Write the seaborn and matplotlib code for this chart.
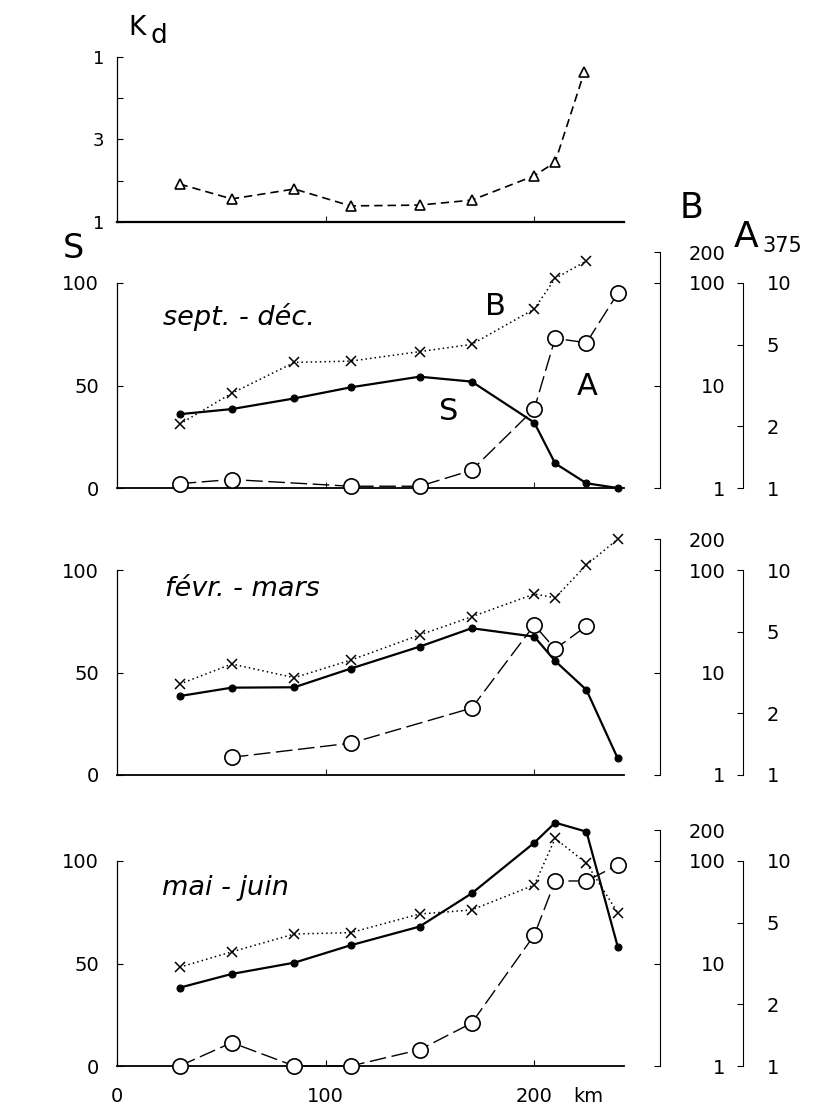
import matplotlib
matplotlib.use("Agg")
import matplotlib.pyplot as plt
import numpy as np
import pandas as pd
import seaborn as sns

# ---------------- data ----------------
stations = [30, 55, 85, 112, 145, 170, 200, 210, 225, 240]

kd_km = [30, 55, 85, 112, 145, 170, 200, 210, 224]
kd_val = [1.92, 1.56, 1.80, 1.39, 1.41, 1.53, 2.12, 2.45, 4.64]
kd_ticks = [1, 2, 3, 4, 5]
kd_ticklabels = ["1", "", "3", "", "1"]

# sept. - déc.
sd_S_km = [30, 55, 85, 112, 145, 170, 200, 210, 225, 240]
sd_S = [36.0, 38.5, 43.7, 49.1, 54.3, 51.9, 31.9, 12.0, 2.3, 0.0]
sd_B_km = [30, 55, 85, 112, 145, 170, 200, 210, 225]
sd_B = [4.2, 8.4, 16.8, 17.3, 21.4, 25.2, 55.7, 111, 164]
sd_A_km = [30, 55, 112, 145, 170, 200, 210, 225, 240]
sd_A = [1.05, 1.10, 1.02, 1.02, 1.22, 2.43, 5.37, 5.11, 8.91]

# févr. - mars
fm_S_km = [30, 55, 85, 112, 145, 170, 200, 210, 225, 240]
fm_S = [38.5, 42.6, 42.8, 51.9, 62.6, 71.6, 67.5, 55.6, 41.5, 8.1]
fm_B_km = [30, 55, 85, 112, 145, 170, 200, 210, 225, 240]
fm_B = [7.7, 12.1, 8.9, 13.2, 23.2, 35.0, 58.3, 53.7, 112, 200]
fm_A_km = [55, 112, 170, 200, 210, 225]
fm_A = [1.22, 1.43, 2.12, 5.39, 4.12, 5.33]

# mai - juin
mj_S_km = [30, 55, 85, 112, 145, 170, 200, 210, 225, 240]
mj_S = [38.2, 44.9, 50.4, 58.9, 68.0, 84.2, 108.9, 118.7, 114.3, 58.2]
mj_B_km = [30, 55, 85, 112, 145, 170, 200, 210, 225, 240]
mj_B = [9.2, 13.0, 19.4, 20.0, 30.4, 33.3, 58.3, 166, 95, 31.3]
mj_A_km = [30, 55, 85, 112, 145, 170, 200, 210, 225, 240]
mj_A = [1.0, 1.30, 1.0, 1.0, 1.20, 1.62, 4.35, 7.99, 7.99, 9.56]

period_labels = ["sept. - déc.", "févr. - mars", "mai - juin"]
s_ticks = [0, 50, 100]
s_ticklabels = ["0", "50", "100"]
b_ticks = [1, 10, 100, 200]
b_ticklabels = ["1", "10", "100", "200"]
a_ticks = [1, 2, 5, 10]
a_ticklabels = ["1", "2", "5", "10"]
x_ticks = [0, 100, 200]
x_ticklabels = ["0", "100", "200"]

# ---------------- style ----------------
sns.set_theme(style="white")
plt.rcParams["font.family"] = ["DejaVu Sans"]
plt.rcParams["axes.linewidth"] = 1.0

W, H = 837, 1109
fig = plt.figure(figsize=(W / 100, H / 100), dpi=100)
fig.patch.set_facecolor("white")

X0, XR = 117, 624
XMAX = 243


def rect(left, top, right, bottom):
    return [left / W, 1 - bottom / H, (right - left) / W, (bottom - top) / H]


def ftext(x, y, s, **kw):
    fig.text(x / W, 1 - y / H, s, color="black", **kw)


def draw(ax, x, y, **kw):
    df = pd.DataFrame({"km": x, "v": y})
    sns.lineplot(data=df, x="km", y="v", ax=ax, sort=False, errorbar=None,
                 legend=False, color="black", clip_on=False, **kw)
    ax.set_xlabel("")
    ax.set_ylabel("")


S_style = dict(linewidth=1.6, linestyle="-", marker="o", markersize=5,
               markerfacecolor="black", markeredgecolor="black",
               markeredgewidth=0.8)
B_style = dict(linewidth=1.1, linestyle=(0, (1, 2)), marker="x", markersize=7,
               markerfacecolor="black", markeredgecolor="black",
               markeredgewidth=1.1)
A_style = dict(linewidth=1.0, linestyle=(0, (12, 4)), marker="o",
               markersize=11, markerfacecolor="white",
               markeredgecolor="black", markeredgewidth=1.2)
K_style = dict(linewidth=1.2, linestyle=(0, (5, 3)), marker="^",
               markersize=7, markerfacecolor="white",
               markeredgecolor="black", markeredgewidth=1.2)

# ---------------- top panel: Kd ----------------
axk = fig.add_axes(rect(X0, 57, XR, 222))
axk.set_facecolor("none")
draw(axk, kd_km, kd_val, **K_style)
axk.set_xlim(0, XMAX)
axk.set_ylim(1, 5)
for s in ["top", "right"]:
    axk.spines[s].set_visible(False)
axk.spines["left"].set_color("black")
axk.spines["left"].set_linewidth(0.9)
axk.spines["bottom"].set_color("black")
axk.spines["bottom"].set_linewidth(1.6)
axk.set_yticks(kd_ticks, kd_ticklabels)
axk.set_xticks([100, 200], ["", ""])
axk.tick_params(axis="y", direction="in", length=4, width=0.8, pad=9,
                labelsize=13, colors="black", left=True)
axk.tick_params(axis="x", direction="in", length=4, width=0.8,
                bottom=True, labelbottom=False)
ftext(128, 35, "K", fontsize=19, ha="left", va="baseline")
ftext(151, 43, "d", fontsize=19, ha="left", va="baseline")

# ---------------- the three lower panels ----------------
panels = [
    (488, sd_S_km, sd_S, sd_B_km, sd_B, sd_A_km, sd_A),
    (775, fm_S_km, fm_S, fm_B_km, fm_B, fm_A_km, fm_A),
    (1066, mj_S_km, mj_S, mj_B_km, mj_B, mj_A_km, mj_A),
]
PH = 250
label_pos = [(163, 325), (165, 596), (162, 895)]

for i, (bot, sx, sy, bx, by, axx, ay) in enumerate(panels):
    ax = fig.add_axes(rect(X0, bot - PH, XR, bot))
    ax.set_facecolor("none")
    draw(ax, sx, sy, **S_style)
    ax.set_xlim(0, XMAX)
    ax.set_ylim(0, PH / 2.05)
    for s in ["top", "right"]:
        ax.spines[s].set_visible(False)
    ax.spines["left"].set_bounds(0, 100)
    ax.spines["left"].set_color("black")
    ax.spines["left"].set_linewidth(0.9)
    ax.spines["bottom"].set_color("black")
    ax.spines["bottom"].set_linewidth(1.3)
    ax.set_yticks(s_ticks, s_ticklabels)
    ax.tick_params(axis="y", direction="in", length=4, width=0.8, pad=13,
                   labelsize=14, colors="black", left=True)
    if i == 2:
        ax.set_xticks(x_ticks, x_ticklabels)
        ax.tick_params(axis="x", direction="in", length=4, width=0.8, pad=15,
                       labelsize=14, colors="black", bottom=True)
    else:
        ax.set_xticks([100, 200], ["", ""])
        ax.tick_params(axis="x", direction="in", length=4, width=0.8,
                       bottom=True, labelbottom=False)

    # B axis (log)
    axB = ax.twinx()
    axB.set_yscale("log")
    draw(axB, bx, by, **B_style)
    axB.set_xlim(0, XMAX)
    axB.set_ylim(1, 10 ** (PH / 102.5))
    for s in ["top", "left", "bottom"]:
        axB.spines[s].set_visible(False)
    axB.spines["right"].set_position(("axes", (660 - X0) / (XR - X0)))
    axB.spines["right"].set_bounds(1, 200)
    axB.spines["right"].set_color("black")
    axB.spines["right"].set_linewidth(0.8)
    axB.yaxis.set_minor_locator(matplotlib.ticker.NullLocator())
    axB.set_yticks(b_ticks, b_ticklabels)
    axB.tick_params(axis="y", which="major", direction="in", length=4,
                    width=0.8, pad=47, labelsize=14, colors="black",
                    right=True)
    for tl in axB.get_yticklabels():
        tl.set_horizontalalignment("right")

    # A375 axis (log)
    axA = ax.twinx()
    axA.set_yscale("log")
    draw(axA, axx, ay, **A_style)
    axA.set_xlim(0, XMAX)
    axA.set_ylim(1, 10 ** (PH / 205))
    for s in ["top", "left", "bottom"]:
        axA.spines[s].set_visible(False)
    axA.spines["right"].set_position(("axes", (743 - X0) / (XR - X0)))
    axA.spines["right"].set_bounds(1, 10)
    axA.spines["right"].set_color("black")
    axA.spines["right"].set_linewidth(0.8)
    axA.yaxis.set_minor_locator(matplotlib.ticker.NullLocator())
    axA.set_yticks(a_ticks, a_ticklabels)
    axA.tick_params(axis="y", which="major", direction="in", length=4,
                    width=0.8, pad=17, labelsize=14, colors="black",
                    right=True)

    lx, ly = label_pos[i]
    ftext(lx, ly, period_labels[i], fontsize=19.5, style="italic",
          ha="left", va="baseline")

# big axis titles
ftext(63, 258, "S", fontsize=24, ha="left", va="baseline")
ftext(680, 218, "B", fontsize=25, ha="left", va="baseline")
ftext(734, 247, "A", fontsize=26, ha="left", va="baseline")
ftext(762, 252, "375", fontsize=15, ha="left", va="baseline")

# curve labels in first panel
ftext(485, 315, "B", fontsize=22, ha="left", va="baseline")
ftext(439, 420, "S", fontsize=22, ha="left", va="baseline")
ftext(577, 395, "A", fontsize=22, ha="left", va="baseline")

# unit
ftext(573, 1087, "km", fontsize=14, ha="left", va="top")

fig.savefig("out.png", dpi=100, facecolor="white")
